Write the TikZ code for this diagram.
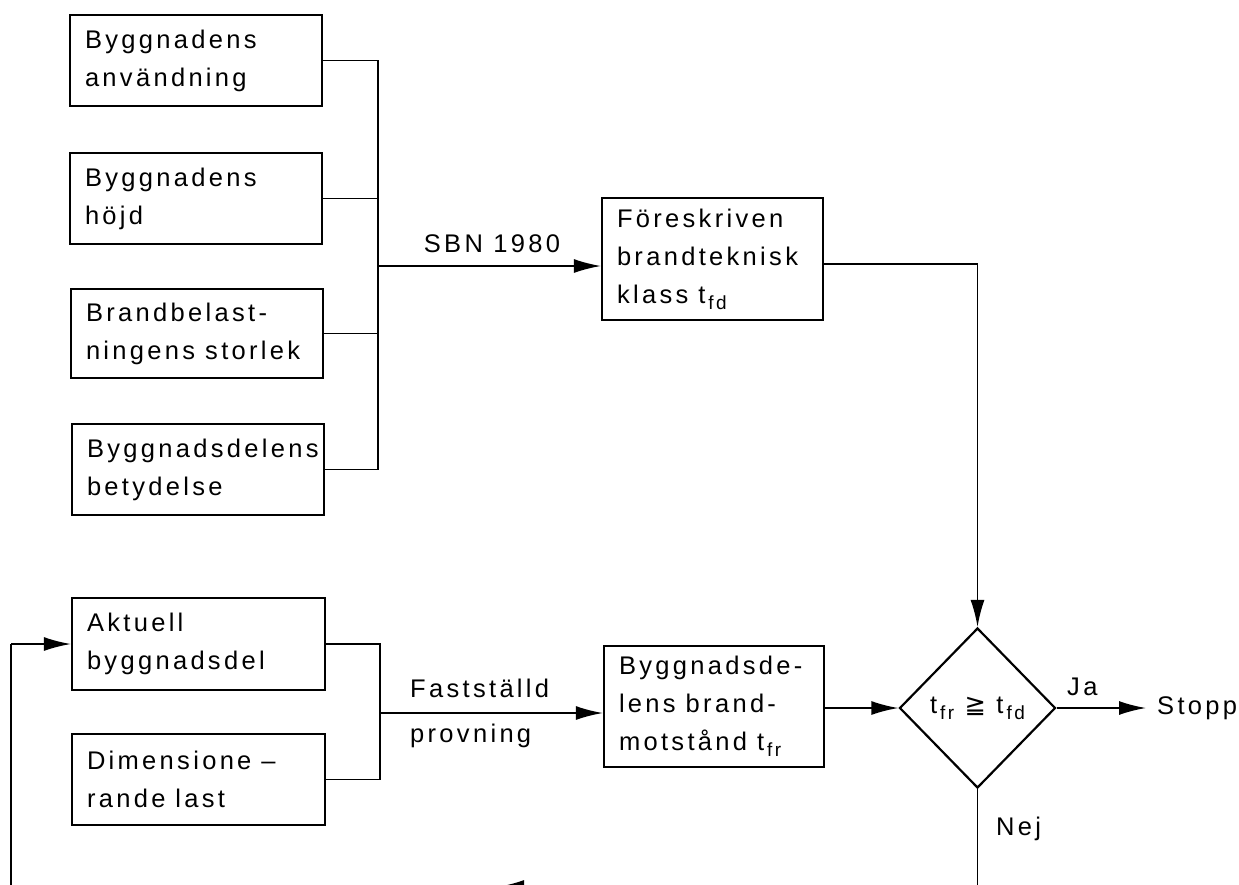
\documentclass[tikz,border=0pt]{standalone}
\usepackage{fontspec}
\setmainfont{Liberation Sans}[LetterSpace=13]
\newfontfamily\symf{DejaVu Sans}
\usetikzlibrary{arrows.meta,shapes.geometric}
\hyphenpenalty=10000
\exhyphenpenalty=10000
\newcommand{\bxfont}{\fontsize{25.5}{38}\selectfont}
\newcommand{\subsc}[1]{\kern3pt\raisebox{-6pt}{\fontsize{19}{19}\selectfont #1}}
\newcommand{\wsp}{\hspace{10pt}}
\tikzset{
  box/.style={draw, line width=2.2pt, align=left, inner xsep=15pt, inner ysep=0pt, font=\bxfont},
  conn/.style={line width=1.8pt},
  arr/.style={conn, -{Latex[length=27pt,width=14pt]}},
  lbl/.style={inner sep=0pt, font=\bxfont},
}
\begin{document}
\begin{tikzpicture}[x=1pt,y=-1pt]
\fill[white] (0,0) rectangle (1239,884);
\useasboundingbox (0,0) rectangle (1239,884);

% upper input boxes
\node[box, text width=222pt, minimum height=91pt] (b1) at (196,60.5) {Byggnadens\\användning};
\node[box, text width=222pt, minimum height=91pt] (b2) at (196,198.5) {Byggnadens\\höjd};
\node[box, text width=222pt, minimum height=89pt] (b3) at (197,333.5) {Brandbelast-\\ningens\wsp storlek};
\node[box, text width=222pt, minimum height=91pt] (b4) at (198,469.5) {Byggnadsdelens\\betydelse};

% prescribed class
\node[box, text width=191pt, minimum height=122pt] (F) at (712.5,259) {Föreskriven\\brandteknisk\\klass\wsp t\subsc{fd}};

% lower input boxes
\node[box, text width=223pt, minimum height=92pt] (A) at (198.5,644) {Aktuell\\byggnadsdel};
\node[box, text width=223pt, minimum height=91pt] (D) at (198.5,779.5) {Dimensione\wsp –\\rande\wsp last};

% fire resistance
\node[box, text width=190pt, minimum height=121pt] (B) at (714,706.5) {Byggnadsde-\\lens\wsp brand-\\motstånd\wsp t\subsc{fr}};

% decision
\node[diamond, draw, line width=2.2pt, inner sep=0pt, minimum width=156pt, minimum height=160pt, font=\bxfont] (dia) at (977.5,708) {t\subsc{fr} {\symf ≧} t\subsc{fd}};

\node[lbl, anchor=west] (stopp) at (1157,708) {Stopp};
\coordinate (stoppin) at (1146,708);

% labels
\node[lbl, anchor=base] (sbn) at (492,252) {SBN 1980};
\node[lbl, anchor=base west] (fast) at (410,697) {Fastställd};
\node[lbl, anchor=base west] (prov) at (410,742) {provning};
\node[lbl, anchor=base west] (ja) at (1067,695) {Ja};
\node[lbl, anchor=base west] (nej) at (996,835) {Nej};

% upper connectors
\coordinate (jt) at (378,266);
\draw[conn] (b1.east) -- (b1.east -| jt) -- (b4.east -| jt) -- (b4.east);
\draw[conn] (b2.east) -- (b2.east -| jt);
\draw[conn] (b3.east) -- (b3.east -| jt);
\draw[arr] (jt) -- (jt -| F.west);
\draw[arr] ([yshift=-5pt]F.east) -| (dia.north);

% lower connectors
\coordinate (jl) at (380,713);
\draw[conn] (A.east) -- (A.east -| jl) -- (D.east -| jl) -- (D.east);
\draw[arr] (jl) -- (jl -| B.west);
\draw[arr] (B.east |- dia.west) -- (dia.west);
\draw[arr] (dia.east) -- (stoppin);

% feedback loop
\coordinate (fbr) at (977.5,887);
\coordinate (fbl) at (11,887);
\coordinate (fbm) at (497,887);
\draw[conn] (dia.south) -- (fbr) -- (fbl) -- (fbl |- A.west);
\draw[arr] (fbl |- A.west) -- (A.west);
\draw[arr] (fbr) -- (fbm);
\end{tikzpicture}
\end{document}
